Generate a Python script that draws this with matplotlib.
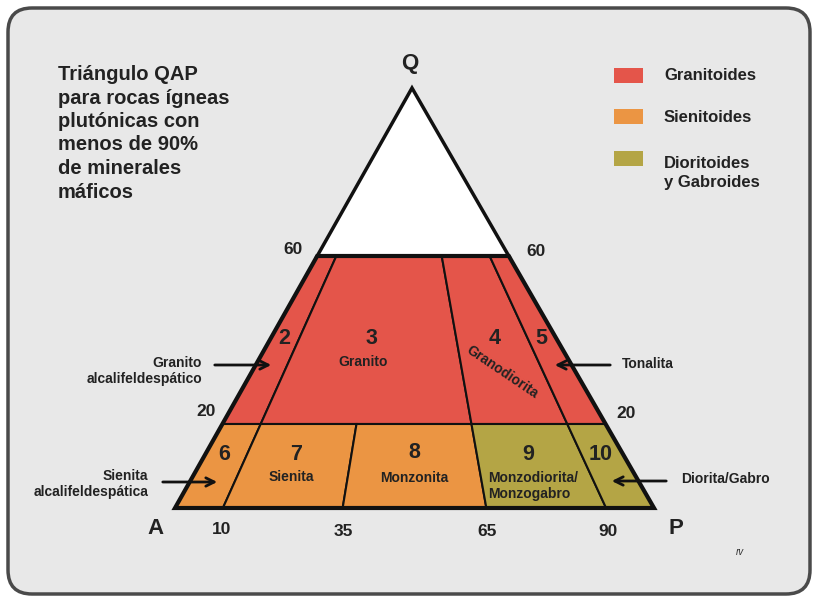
import numpy as np
import matplotlib.pyplot as plt
from matplotlib.patches import Polygon, FancyBboxPatch

plt.rcParams['font.family'] = ['Liberation Sans', 'DejaVu Sans']

# vertices of the triangle (pixel-like coords)
A = np.array([175.0, 508.0])
P = np.array([654.0, 508.0])
Q = np.array([412.0, 88.0])

# Q levels (%) and P/(A+P) splits (%)
q_levels = [0, 20, 60]
p_upper = [0, 10, 65, 90, 100]
p_lower = [0, 10, 35, 65, 90, 100]
num_upper = ['2', '3', '4', '5']
num_lower = ['6', '7', '8', '9', '10']
col_upper = ['#e4554a', '#e4554a', '#e4554a', '#e4554a']
col_lower = ['#eb9543', '#eb9543', '#eb9543', '#b4a545', '#b4a545']

legend_names = ['Granitoides', 'Sienitoides', 'Dioritoides\ny Gabroides']
legend_cols = ['#e4554a', '#eb9543', '#b4a545']

titulo = 'Triángulo QAP\npara rocas ígneas\nplutónicas con\nmenos de 90%\nde minerales\nmáficos'


def pt(q, p):
    base = A + (P - A) * p / 100.0
    return base * (1 - q / 100.0) + Q * q / 100.0


fig = plt.figure(figsize=(8.14, 5.98), dpi=100)
ax = fig.add_axes([0, 0, 1, 1])
ax.set_xlim(0, 814)
ax.set_ylim(598, 0)
ax.axis('off')

# marco
ax.add_patch(FancyBboxPatch((8, 8), 802, 586, boxstyle='round,pad=0,rounding_size=24',
                            fc='#e8e8e8', ec='#4a4a4a', lw=2.5))

# triangulo superior en blanco
ax.add_patch(Polygon([pt(60, 0), pt(60, 100), Q], closed=True, fc='white', ec='#111111', lw=2.5))

# campos
for band, splits, cols in [((20, 60), p_upper, col_upper), ((0, 20), p_lower, col_lower)]:
    q0, q1 = band
    for i in range(len(splits) - 1):
        p0, p1 = splits[i], splits[i + 1]
        poly = [pt(q0, p0), pt(q0, p1), pt(q1, p1), pt(q1, p0)]
        ax.add_patch(Polygon(poly, closed=True, fc=cols[i], ec='#111111', lw=1.5))

ax.add_patch(Polygon([pt(0, 0), pt(0, 100), pt(60, 100), pt(60, 0)], closed=True,
                     fill=False, ec='#111111', lw=3))

txt = dict(color='#222222', fontweight='bold', ha='center', va='center')

# numeros de campo
for s, (x, y) in zip(num_upper, [(284, 339), (371, 339), (495, 339), (541, 339)]):
    ax.text(x, y, s, fontsize=15.5, **txt)
for s, (x, y) in zip(num_lower, [(224, 455), (296, 454), (414, 453), (528, 454), (601, 454)]):
    ax.text(x, y, s, fontsize=15.5, **txt)

ax.text(363, 362, 'Granito', fontsize=10, **txt)
ax.text(502, 372, 'Granodiorita', fontsize=10, rotation=-34, **txt)
ax.text(291, 477, 'Sienita', fontsize=10, **txt)
ax.text(414, 478, 'Monzonita', fontsize=10, **txt)
ax.text(488, 486, 'Monzodiorita/\nMonzogabro', fontsize=10, color='#222222', fontweight='bold',
        ha='left', va='center', linespacing=1.1)

# vertices y marcas
ax.text(410, 64, 'Q', fontsize=16, **txt)
ax.text(155, 529, 'A', fontsize=16, **txt)
ax.text(676, 529, 'P', fontsize=16, **txt)
for s, (x, y) in zip(['60', '60', '20', '20', '10', '35', '65', '90'],
                     [(293, 249), (536, 251), (206, 412), (626, 413),
                      (222, 530), (343, 531), (487, 531), (608, 531)]):
    ax.text(x, y, s, fontsize=12.5, **txt)

# flechas
arr = dict(arrowstyle='->', lw=2, color='#111111', mutation_scale=15)
ax.annotate('', xy=(274, 365), xytext=(212, 365), arrowprops=arr)
ax.text(202, 371, 'Granito\nalcalifeldespático', fontsize=10, color='#222222', fontweight='bold',
        ha='right', va='center', linespacing=1.2)
ax.annotate('', xy=(220, 482), xytext=(160, 482), arrowprops=arr)
ax.text(148, 484, 'Sienita\nalcalifeldespática', fontsize=10, color='#222222', fontweight='bold',
        ha='right', va='center', linespacing=1.2)
ax.annotate('', xy=(552, 365), xytext=(613, 365), arrowprops=arr)
ax.text(622, 364, 'Tonalita', fontsize=10, color='#222222', fontweight='bold', ha='left', va='center')
ax.annotate('', xy=(609, 481), xytext=(669, 481), arrowprops=arr)
ax.text(681, 479, 'Diorita/Gabro', fontsize=10, color='#222222', fontweight='bold', ha='left', va='center')

# titulo
ax.text(58, 65, titulo, fontsize=14.5, color='#222222', fontweight='bold', ha='left', va='top',
        linespacing=1.3)

# leyenda
for i, (name, c) in enumerate(zip(legend_names, legend_cols)):
    y = [75, 116, 158][i]
    ax.add_patch(plt.Rectangle((614, y - 7), 29, 15, fc=c, ec='none'))
    ax.text(664, y + 1 if i < 2 else y + 15, name, fontsize=12, color='#222222', fontweight='bold',
            ha='left', va='center', linespacing=1.4)

ax.text(740, 552, 'rv', fontsize=7, style='italic', color='#333333', ha='center', va='center')

fig.savefig('out.png', dpi=100)
